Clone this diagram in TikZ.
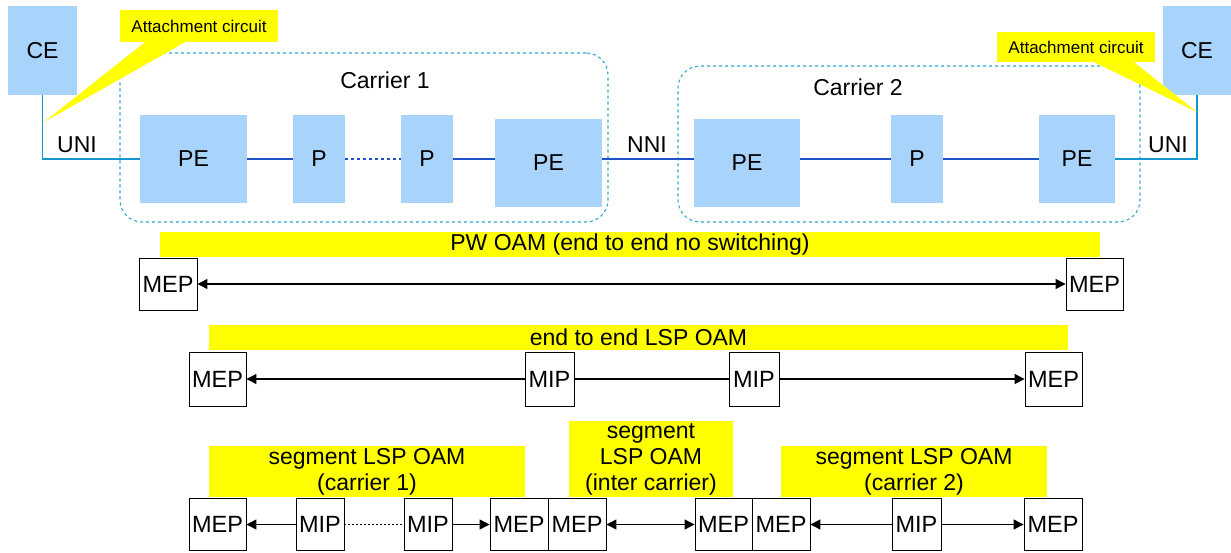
\documentclass[tikz,border=0pt]{standalone}
\usepackage{fontspec}
\setmainfont{Liberation Sans}
\usepackage{xcolor}
\usepackage{tikz}
\usetikzlibrary{arrows.meta, positioning}
\definecolor{boxblue}{RGB}{168,212,252}
\definecolor{linkblue}{RGB}{32,80,200}
\definecolor{unicyan}{RGB}{20,150,210}
\definecolor{dashcyan}{RGB}{50,165,210}
\definecolor{oamyellow}{RGB}{255,255,0}
\tikzset{
    netbox/.style={rectangle, fill=boxblue, text centered, inner sep=0pt, font=\fontsize{23}{26}\selectfont},
    carrier/.style={rectangle, draw=dashcyan, dashed, line width=1.1pt, rounded corners=22pt, inner sep=0pt},
    link/.style={draw=linkblue, line width=2pt},
    access/.style={draw=unicyan, line width=1.3pt},
    callout/.style={rectangle, fill=oamyellow, inner sep=0pt, minimum width=158pt, font=\fontsize{17}{19}\selectfont},
    oambar/.style={rectangle, fill=oamyellow, inner sep=0pt, align=center, font=\fontsize{23}{26}\selectfont},
    point/.style={rectangle, draw, fill=white, line width=0.9pt, inner sep=0pt, minimum height=52pt, font=\fontsize{23.5}{26}\selectfont},
    label/.style={inner sep=0pt, font=\fontsize{23}{26}\selectfont},
    oam/.style={line width=1.2pt, >={Triangle[length=10pt,width=10pt]}}
}
\begin{document}
\begin{tikzpicture}[x=1pt, y=-1pt]
    \useasboundingbox (0,0) rectangle (1231,552);

    % Carrier domains
    \node[carrier, minimum width=488pt, minimum height=169pt] (carrier1) at (364,137.5) {};
    \node[carrier, minimum width=462pt, minimum height=156pt] (carrier2) at (909,144) {};
    \node[label] (c1label) at (385,80) {Carrier 1};
    \node[label] (c2label) at (858,87) {Carrier 2};

    % Network elements
    \node[netbox, minimum width=69pt, minimum height=89pt] (ceL) at (42.5,50.5) {CE};
    \node[netbox, minimum width=68pt, minimum height=89pt] (ceR) at (1197,50.5) {CE};
    \node[netbox, minimum width=107pt, minimum height=88pt] (pe1) at (193.5,159) {PE};
    \node[netbox, minimum width=52pt, minimum height=88pt] (p1) at (319,159) {P};
    \node[netbox, minimum width=52pt, minimum height=88pt] (p2) at (427,159) {P};
    \node[netbox, minimum width=107pt, minimum height=88pt] (pe2) at (548.5,163) {PE};
    \node[netbox, minimum width=106pt, minimum height=88pt] (pe3) at (747,163) {PE};
    \node[netbox, minimum width=52pt, minimum height=88pt] (p3) at (917,159) {P};
    \node[netbox, minimum width=76pt, minimum height=88pt] (pe4) at (1077,159) {PE};

    % Links
    \draw[link] (pe1) -- (p1);
    \draw[link, dash pattern=on 3pt off 3pt] (p1) -- (p2);
    \draw[link] (p2) -- (p2 -| pe2.west);
    \draw[link] (pe2.east |- p2) -- (pe3.west |- p2);
    \draw[link] (pe3.east |- p3) -- (p3);
    \draw[link] (p3) -- (pe4);
    \draw[access] (ceL.south) |- (pe1.west);
    \draw[access] (pe4.east) -| (ceR.south);
    \node[label] (uniL) at (77,145) {UNI};
    \node[label] (nni) at (647,145) {NNI};
    \node[label] (uniR) at (1168,145) {UNI};

    % Attachment circuit callouts
    \coordinate (tipL) at (44,122);
    \coordinate (tipR) at (1197,112);
    \node[callout, minimum height=32pt] (acL) at (199,26) {Attachment circuit};
    \node[callout, minimum height=30pt] (acR) at (1076,47) {Attachment circuit};
    \fill[oamyellow] ([xshift=-54pt]acL.south) -- (tipL) -- ([xshift=-14pt]acL.south) -- cycle;
    \fill[oamyellow] ([xshift=18pt]acR.south) -- (tipR) -- ([xshift=58pt]acR.south) -- cycle;

    % PW OAM
    \node[oambar, minimum width=940pt, minimum height=25pt] (pw) at (630,244.5) {PW OAM (end to end no switching)};
    \node[point, minimum width=58pt] (mepA) at (168,284) {MEP};
    \node[point, minimum width=57pt] (mepB) at (1094.5,284) {MEP};
    \draw[oam, <->] (mepA) -- (mepB);

    % end to end LSP OAM
    \node[oambar, minimum width=859pt, minimum height=25pt] (e2e) at (638.5,337.5) {end to end LSP OAM};
    \node[point, minimum width=57pt, minimum height=54pt] (mepC) at (217.5,379) {MEP};
    \node[point, minimum width=49pt, minimum height=54pt] (mipA) at (549.5,379) {MIP};
    \node[point, minimum width=50pt, minimum height=54pt] (mipB) at (754,379) {MIP};
    \node[point, minimum width=57pt, minimum height=54pt] (mepD) at (1053.5,379) {MEP};
    \draw[oam, ->] (mipA) -- (mepC);
    \draw[oam] (mipA) -- (mipB);
    \draw[oam, ->] (mipB) -- (mepD);

    % segment LSP OAM
    \node[oambar, minimum width=316pt, minimum height=51pt] (seg1) at (367,471.5) {segment LSP OAM\\(carrier 1)};
    \node[oambar, minimum width=164pt, minimum height=76pt] (seg2) at (651,459) {segment\\LSP OAM\\(inter carrier)};
    \node[oambar, minimum width=266pt, minimum height=51pt] (seg3) at (914,471.5) {segment LSP OAM\\(carrier 2)};
    \node[point, minimum width=57pt] (mepE) at (217.5,524.5) {MEP};
    \node[point, minimum width=48pt] (mipC) at (320,524.5) {MIP};
    \node[point, minimum width=48pt] (mipD) at (428,524.5) {MIP};
    \node[point, minimum width=58pt] (mepF) at (519,524.5) {MEP};
    \node[point, minimum width=58pt] (mepG) at (577,524.5) {MEP};
    \node[point, minimum width=57pt] (mepH) at (723.5,524.5) {MEP};
    \node[point, minimum width=58pt] (mepI) at (781,524.5) {MEP};
    \node[point, minimum width=49pt] (mipE) at (916.5,524.5) {MIP};
    \node[point, minimum width=58pt] (mepJ) at (1053,524.5) {MEP};
    \draw[oam, ->] (mipC) -- (mepE);
    \draw[oam, dash pattern=on 2pt off 2pt] (mipC) -- (mipD);
    \draw[oam, ->] (mipD) -- (mepF);
    \draw[oam, <->] (mepG) -- (mepH);
    \draw[oam, ->] (mipE) -- (mepI);
    \draw[oam, ->] (mipE) -- (mepJ);
\end{tikzpicture}
\end{document}
